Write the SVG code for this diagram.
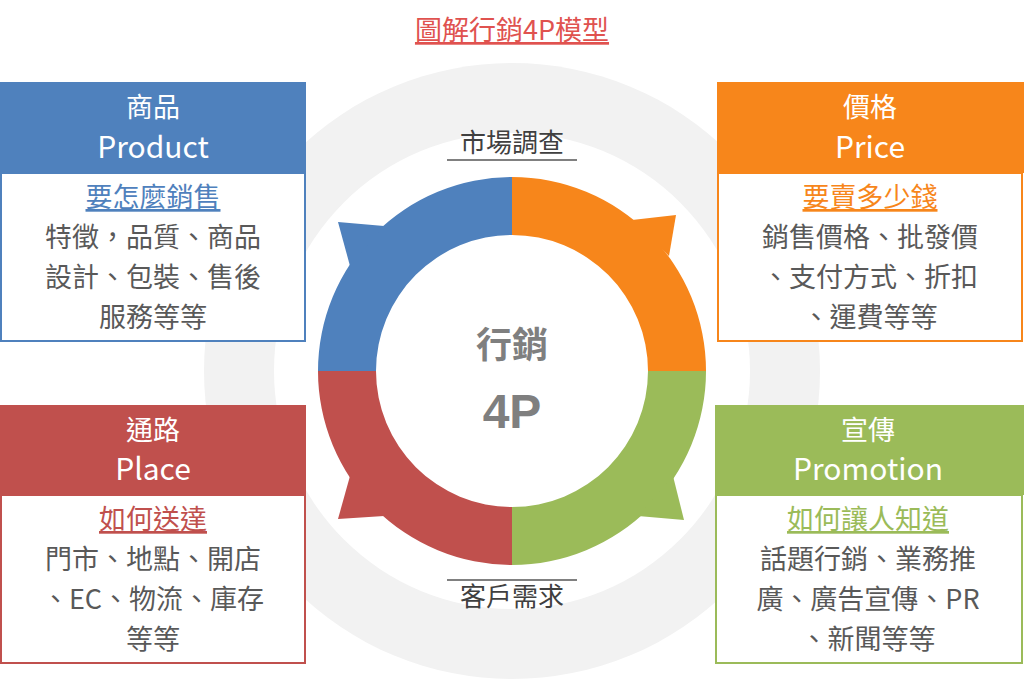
<svg xmlns="http://www.w3.org/2000/svg" width="1024" height="686" viewBox="0 0 1024 686">
<style>
text{font-family:"Noto Sans CJK TC","Noto Sans",sans-serif;text-anchor:middle}
.h1{font-size:27px;fill:#fff}
.h2{font-size:30px;fill:#fff}
.sub{font-size:27px;text-decoration:underline}
.body{font-size:27px;fill:#595959}
.lbl{font-size:26px;fill:#404040}
</style>
<rect width="1024" height="686" fill="#fff"/>
<circle cx="512" cy="371" r="308" fill="#f2f2f2"/>
<circle cx="512" cy="371" r="238" fill="#fff"/>
<g id="ring">
<path d="M512 177A194 194 0 0 0 318 371H376A136 136 0 0 1 512 235Z" fill="#4f81bd"/>
<polygon points="338,222 384,226 350,266" fill="#4f81bd"/>
<path d="M512 177A194 194 0 0 1 706 371H648A136 136 0 0 0 512 235Z" fill="#f7861b"/>
<polygon points="676,215 632,220 669,256" fill="#f7861b"/>
<path d="M706 371A194 194 0 0 1 512 565V507A136 136 0 0 0 648 371Z" fill="#9bbb59"/>
<polygon points="684,520 673,476 638,516" fill="#9bbb59"/>
<path d="M512 565A194 194 0 0 1 318 371H376A136 136 0 0 0 512 507Z" fill="#c0504d"/>
<polygon points="338,519 350,476 384,516" fill="#c0504d"/>
</g>
<g id="center">
<text x="512" y="358" style="font-size:36px;font-weight:bold;fill:#7f7f7f">行銷</text>
<text x="512" y="428" style="font-size:48px;font-weight:bold;fill:#7f7f7f;font-family:'Liberation Sans',sans-serif">4P</text>
</g>
<text x="512" y="40" style="font-size:27px;fill:#e0524f;text-decoration:underline">圖解行銷4P模型</text>
<g id="label-top"><text class="lbl" x="512" y="152">市場調查</text><line x1="447" y1="160" x2="577" y2="160" stroke="#808080" stroke-width="2"/></g>
<g id="label-bottom"><text class="lbl" x="512" y="606">客戶需求</text><line x1="447" y1="580" x2="577" y2="580" stroke="#808080" stroke-width="2"/></g>
<g id="product">
<rect x="1" y="173" width="304" height="168" fill="#fff" stroke="#4f81bd" stroke-width="2"/>
<rect x="0" y="82" width="306" height="91" fill="#4f81bd"/>
<text class="h1" x="153" y="117">商品</text><text class="h2" x="153" y="158">Product</text>
<text class="sub" x="153" y="207" fill="#4f81bd">要怎麼銷售</text>
<text class="body" x="153" y="247">特徵，品質、商品</text>
<text class="body" x="153" y="287">設計、包裝、售後</text>
<text class="body" x="153" y="327">服務等等</text>
</g>
<g id="price">
<rect x="718" y="173" width="304" height="168" fill="#fff" stroke="#f7861b" stroke-width="2"/>
<rect x="717" y="82" width="307" height="91" fill="#f7861b"/>
<text class="h1" x="870" y="117">價格</text><text class="h2" x="870" y="158">Price</text>
<text class="sub" x="870" y="207" fill="#f7861b">要賣多少錢</text>
<text class="body" x="870" y="247">銷售價格、批發價</text>
<text class="body" x="870" y="287">、支付方式、折扣</text>
<text class="body" x="870" y="327">、運費等等</text>
</g>
<g id="place">
<rect x="1" y="495" width="304" height="168" fill="#fff" stroke="#c0504d" stroke-width="2"/>
<rect x="0" y="405" width="306" height="90" fill="#c0504d"/>
<text class="h1" x="153" y="440">通路</text><text class="h2" x="153" y="480">Place</text>
<text class="sub" x="153" y="529" fill="#c0504d">如何送達</text>
<text class="body" x="153" y="569">門市、地點、開店</text>
<text class="body" x="153" y="609">、EC、物流、庫存</text>
<text class="body" x="153" y="649">等等</text>
</g>
<g id="promotion">
<rect x="716" y="495" width="306" height="168" fill="#fff" stroke="#9bbb59" stroke-width="2"/>
<rect x="715" y="405" width="309" height="90" fill="#9bbb59"/>
<text class="h1" x="868" y="440">宣傳</text><text class="h2" x="868" y="480">Promotion</text>
<text class="sub" x="868" y="529" fill="#9bbb59">如何讓人知道</text>
<text class="body" x="868" y="569">話題行銷、業務推</text>
<text class="body" x="868" y="609">廣、廣告宣傳、PR</text>
<text class="body" x="868" y="649">、新聞等等</text>
</g>
<g id="connectors"/>
</svg>
